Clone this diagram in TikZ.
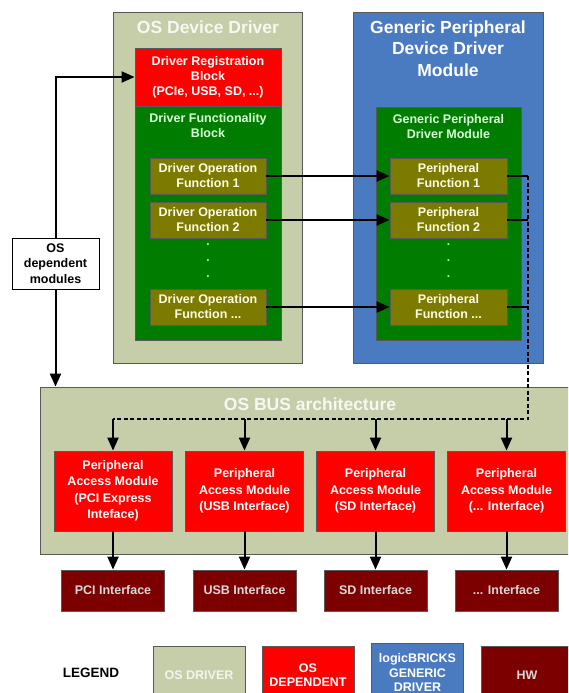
\documentclass[tikz,border=0pt]{standalone}
\usepackage{fontspec}
\setmainfont{Liberation Sans}
\usepackage{tikz}
\usetikzlibrary{arrows.meta}
\usepackage{xcolor}

\definecolor{osdriver}{HTML}{C6CDA9}
\definecolor{osdep}{HTML}{FF0000}
\definecolor{generic}{HTML}{4A7AC0}
\definecolor{hwred}{HTML}{7D0000}
\definecolor{funcgreen}{HTML}{007D00}
\definecolor{opolive}{HTML}{7D7A00}

\begin{document}
\begin{tikzpicture}[x=1pt, y=-1pt,
  box/.style={draw=black!65, line width=0.8pt, inner sep=0pt, align=center,
    font=\bfseries\fontsize{12.5}{15}\selectfont},
  osbox/.style={box, fill=osdriver, text=white!80!osdriver},
  depbox/.style={box, fill=osdep, text=white},
  genbox/.style={box, fill=generic, text=white},
  hwbox/.style={box, fill=hwred, text=white!85!black},
  funcbox/.style={box, fill=funcgreen, text=white!85!green},
  opbox/.style={box, fill=opolive, text=white!90!yellow, minimum height=36pt},
  pambox/.style={depbox, minimum width=118pt, minimum height=80pt,
    font=\bfseries\fontsize{12.5}{16.5}\selectfont},
  legbox/.style={minimum width=92pt, minimum height=58pt,
    font=\bfseries\fontsize{12.5}{14.5}\selectfont},
  title/.style={font=\bfseries\fontsize{17.5}{21.5}\selectfont, align=center},
  dots/.style={font=\bfseries\fontsize{12}{16}\selectfont, align=center, text=white!70!green},
  link/.style={line width=2pt, -{Triangle[length=13pt,width=11pt]}},
  busline/.style={line width=2.2pt, dash pattern=on 4pt off 2.5pt}]
  \useasboundingbox (0,0) rectangle (568,693);
  \clip (0,0) rectangle (568,693);

  % containers
  \node[osbox, minimum width=189pt, minimum height=351pt] (osdrv) at (207.5,187.5) {};
  \node[title, text=white!85!osdriver] (osdrvtitle) at (208,27) {OS Device Driver};
  \node[genbox, minimum width=190pt, minimum height=351pt] (gpdd) at (448,187.5) {};
  \node[title, text=white] (gpddtitle) at (448,48.5) {Generic Peripheral\\Device Driver\\Module};

  % OS device driver
  \node[depbox, minimum width=146pt, minimum height=58pt] (reg) at (208,77) {Driver Registration\\Block\\(PCIe, USB, SD, ...)};
  \node[funcbox, minimum width=146pt, minimum height=234pt] (drvfunc) at (208,223) {};
  \node[font=\bfseries\fontsize{12.5}{15}\selectfont, align=center, text=white!85!green] (drvfunctitle) at (208,126) {Driver Functionality\\Block};
  \node[opbox, minimum width=116pt] (op1) at (208,176) {Driver Operation\\Function 1};
  \node[opbox, minimum width=116pt] (op2) at (208,220) {Driver Operation\\Function 2};
  \node[dots] (opdots) at (208,261) {.\\.\\.};
  \node[opbox, minimum width=116pt] (op3) at (208,307) {Driver Operation\\Function ...};

  % generic peripheral driver
  \node[funcbox, minimum width=145pt, minimum height=233pt] (genfunc) at (448.5,223.5) {};
  \node[font=\bfseries\fontsize{12.5}{15}\selectfont, align=center, text=white!85!green] (genfunctitle) at (448.5,127) {Generic Peripheral\\Driver Module};
  \node[opbox, minimum width=117pt] (pf1) at (448.5,176) {Peripheral\\Function 1};
  \node[opbox, minimum width=117pt] (pf2) at (448.5,220) {Peripheral\\Function 2};
  \node[dots] (pfdots) at (448.5,261) {.\\.\\.};
  \node[opbox, minimum width=117pt] (pf3) at (448.5,307) {Peripheral\\Function ...};

  \node[box, fill=white, draw=black, minimum width=87pt, minimum height=51pt,
    font=\bfseries\fontsize{12.5}{15.5}\selectfont] (osdepmod) at (55.5,263.5) {OS\\dependent\\modules};

  % bus
  \node[osbox, minimum width=540pt, minimum height=167pt] (bus) at (310,470.5) {};
  \node[title, text=white!85!osdriver] (bustitle) at (310,404) {OS BUS architecture};
  \node[pambox] (pam1) at (113,491) {Peripheral\\Access Module\\(PCI Express\\Inteface)};
  \node[pambox] (pam2) at (244.5,491) {Peripheral\\Access Module\\(USB Interface)};
  \node[pambox] (pam3) at (375.5,491) {Peripheral\\Access Module\\(SD Interface)};
  \node[pambox] (pam4) at (506.5,491) {Peripheral\\Access Module\\(... Interface)};

  % hardware
  \node[hwbox, minimum width=103pt, minimum height=41pt] (hw1) at (113,590.5) {PCI Interface};
  \node[hwbox, minimum width=103pt, minimum height=41pt] (hw2) at (244.5,590.5) {USB Interface};
  \node[hwbox, minimum width=103pt, minimum height=41pt] (hw3) at (375.5,590.5) {SD Interface};
  \node[hwbox, minimum width=103pt, minimum height=41pt] (hw4) at (506.5,590.5) {... Interface};

  % legend
  \node[font=\bfseries\fontsize{13.5}{15}\selectfont] (legend) at (91,673) {LEGEND};
  \node[osbox, legbox] (legdrv) at (199,675) {OS DRIVER};
  \node[depbox, legbox] (legdep) at (308,675) {OS\\DEPENDENT};
  \node[genbox, legbox] (leggen) at (417.5,672.5) {logicBRICKS\\GENERIC\\DRIVER};
  \node[hwbox, legbox] (leghw) at (527,675) {HW};

  % connectors
  \draw[link] (osdepmod.north) |- (reg.west);
  \draw[link] (osdepmod.south) -- (osdepmod.south |- bus.north);
  \draw[link] (op1) -- (pf1);
  \draw[link] (op2) -- (pf2);
  \draw[link] (op3) -- (pf3);

  \coordinate (dtop) at (528,176);
  \coordinate (dcorner) at (528,419);
  \coordinate (dleft) at (113,419);
  \draw[line width=2pt] (pf1.east) -- (pf1.east -| dtop);
  \draw[line width=2pt] (pf2.east) -- (pf2.east -| dtop);
  \draw[line width=2pt] (pf3.east) -- (pf3.east -| dtop);
  \draw[busline] (dtop) -- (dcorner) -- (dleft);

  \draw[link] (pam1.north |- dleft) -- (pam1);
  \draw[link] (pam2.north |- dleft) -- (pam2);
  \draw[link] (pam3.north |- dleft) -- (pam3);
  \draw[link] (pam4.north |- dleft) -- (pam4);
  \draw[link] (pam1) -- (hw1);
  \draw[link] (pam2) -- (hw2);
  \draw[link] (pam3) -- (hw3);
  \draw[link] (pam4) -- (hw4);
\end{tikzpicture}
\end{document}
